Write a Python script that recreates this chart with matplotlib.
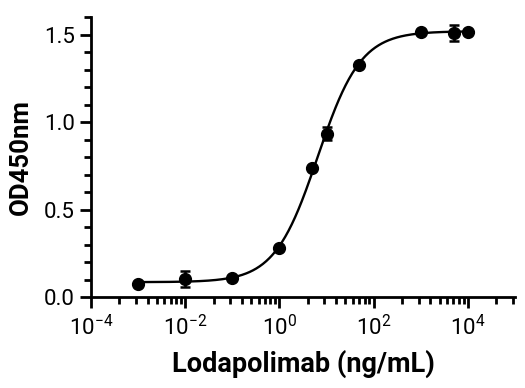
import numpy as np
import matplotlib
matplotlib.use("Agg")
import matplotlib.pyplot as plt
from matplotlib.ticker import FixedLocator, NullFormatter

plt.rcParams['font.family'] = ['Roboto', 'DejaVu Sans']
plt.rcParams['mathtext.fontset'] = 'custom'
plt.rcParams['mathtext.rm'] = 'Roboto'

# Measured points (ng/mL vs OD450)
conc = [0.001, 0.01, 0.1, 1, 5, 10, 50, 1000, 5000, 10000]
od450 = [0.075, 0.101, 0.110, 0.282, 0.740, 0.935, 1.326, 1.517, 1.511, 1.514]
od_err = [0.0, 0.045, 0.0, 0.0, 0.0, 0.037, 0.0, 0.0, 0.045, 0.0]

# 4PL fit
BOTTOM = 0.085
TOP = 1.52
EC50 = 6.5
HILL = 0.95

x_major = [1e-4, 1e-2, 1, 1e2, 1e4]
x_labels = [r'$\mathregular{10^{-4}}$', r'$\mathregular{10^{-2}}$', r'$\mathregular{10^{0}}$',
            r'$\mathregular{10^{2}}$', r'$\mathregular{10^{4}}$']
minor_mult = [4, 9, 16, 25, 36, 49, 64, 81]


def four_pl(x):
    return BOTTOM + (TOP - BOTTOM) / (1 + (EC50 / x) ** HILL)


fig = plt.figure(figsize=(5.25, 3.88), dpi=100)
ax = fig.add_axes([0.1733, 0.2345, 0.8077, 0.721])

xfit = np.logspace(-3, 4, 400)
ax.plot(xfit, four_pl(xfit), color='black', linewidth=1.7, zorder=2)
ax.errorbar(conc, od450, yerr=od_err, fmt='o', color='black', markersize=8.5,
            elinewidth=1.8, capsize=3.6, capthick=1.8, zorder=3)

ax.set_xscale('log')
ax.set_xlim(1e-4, 1e5)
ax.set_ylim(0, 1.6)

ax.xaxis.set_major_locator(FixedLocator(x_major))
ax.set_xticklabels(x_labels)
minors = [m * d for d in x_major for m in minor_mult]
ax.xaxis.set_minor_locator(FixedLocator(minors))
ax.xaxis.set_minor_formatter(NullFormatter())

ax.set_yticks([0, 0.5, 1.0, 1.5])
ax.set_yticklabels(['0.0', '0.5', '1.0', '1.5'])
ax.yaxis.set_minor_locator(FixedLocator(np.arange(0, 1.65, 0.1)))

for s in ['top', 'right']:
    ax.spines[s].set_visible(False)
for s in ['left', 'bottom']:
    ax.spines[s].set_linewidth(2)

ax.tick_params(which='major', length=8, width=2, labelsize=16, direction='out')
ax.tick_params(which='minor', length=5, width=2, direction='out')
ax.tick_params(axis='y', which='major', pad=3.5)
ax.tick_params(axis='x', which='major', pad=5)

ax.set_xlabel('Lodapolimab (ng/mL)', fontsize=19.5, fontweight='bold', labelpad=7)
ax.set_ylabel('OD450nm', fontsize=18.5, fontweight='bold', labelpad=8)

fig.savefig('out.png', dpi=100)
